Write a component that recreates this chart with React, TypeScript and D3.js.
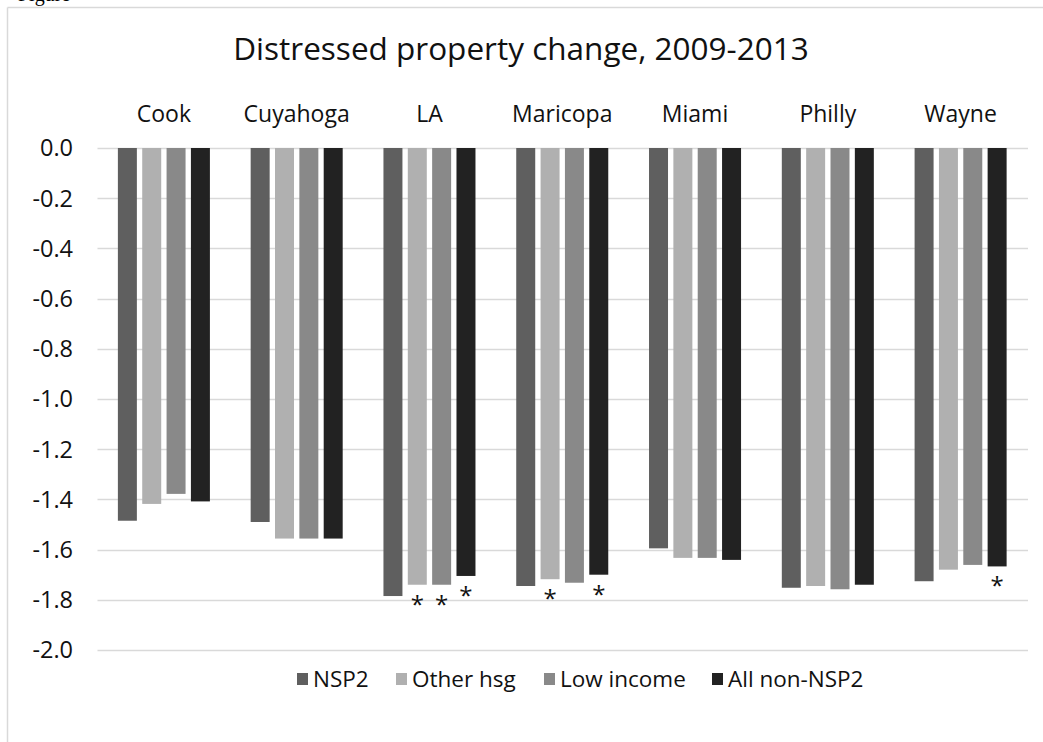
import React from "react";
import * as d3 from "d3";

const categories = ["Cook", "Cuyahoga", "LA", "Maricopa", "Miami", "Philly", "Wayne"];
const seriesNames = ["NSP2", "Other hsg", "Low income", "All non-NSP2"];
const nsp2 = [-1.485, -1.49, -1.785, -1.745, -1.595, -1.752, -1.726];
const otherHsg = [-1.418, -1.556, -1.74, -1.718, -1.633, -1.745, -1.68];
const lowIncome = [-1.378, -1.556, -1.74, -1.732, -1.633, -1.758, -1.661];
const allNonNsp2 = [-1.408, -1.556, -1.705, -1.7, -1.641, -1.74, -1.667];
// significance markers (asterisks)
const sigOther = [false, false, true, true, false, false, false];
const sigLow = [false, false, true, false, false, false, false];
const sigAll = [false, false, true, true, false, false, true];
const yTicks = [0, -0.2, -0.4, -0.6, -0.8, -1.0, -1.2, -1.4, -1.6, -1.8, -2.0];
const title = "Distressed property change, 2009-2013";

const seriesValues = [nsp2, otherHsg, lowIncome, allNonNsp2];
const seriesSig = [categories.map(() => false), sigOther, sigLow, sigAll];
const colors = ["#5f5f5f", "#b0b0b0", "#898989", "#222222"];

const W = 1043;
const H = 742;
const FONT = "'Open Sans', 'Noto Sans', sans-serif";

export default function App() {
  const x0 = d3.scaleBand<string>().domain(categories).range([97.5, 1027]).paddingInner(0.307).paddingOuter(0.1535);
  const x1 = d3.scaleBand<string>().domain(seriesNames).range([0, x0.bandwidth()]).paddingInner(0.22).paddingOuter(0);
  const y = d3.scaleLinear().domain([-2, 0]).range([650, 148]);

  const legendX = [297, 396, 544, 712];

  return (
    <svg width={W} height={H} style={{ position: "absolute", left: 0, top: 0, display: "block", background: "#fff" }}>
      <rect x={0} y={0} width={W} height={H} fill="#fff" />
      <text x={18} y={1} fontFamily="'Liberation Serif', serif" fontSize={20} fill="#000">Figure</text>
      <line x1={7.5} y1={7.5} x2={W} y2={7.5} stroke="#d9d9d9" strokeWidth={1.5} />
      <line x1={7.5} y1={7.5} x2={7.5} y2={H} stroke="#d9d9d9" strokeWidth={1.5} />
      <text x={521} y={60} textAnchor="middle" fontFamily={FONT} fontSize={31.5} fill="#111">{title}</text>
      {yTicks.map((t) => (
        <g key={t}>
          <line x1={97.5} x2={1028} y1={Math.round(y(t)) + 0.5} y2={Math.round(y(t)) + 0.5} stroke="#d9d9d9" strokeWidth={1.5} />
          <text x={73} y={y(t)} dy="0.36em" textAnchor="end" fontFamily={FONT} fontSize={23.5} fill="#111">
            {d3.format(".1f")(t).replace("−", "-")}
          </text>
        </g>
      ))}
      {categories.map((c, ci) => (
        <g key={c}>
          <text x={(x0(c) ?? 0) + x0.bandwidth() / 2} y={122} textAnchor="middle" fontFamily={FONT} fontSize={23} fill="#111">{c}</text>
          {seriesNames.map((s, si) => {
            const v = seriesValues[si][ci];
            const bx = (x0(c) ?? 0) + (x1(s) ?? 0);
            return (
              <g key={s}>
                <rect x={bx} y={y(0)} width={x1.bandwidth()} height={y(v) - y(0)} fill={colors[si]} />
                {seriesSig[si][ci] && (
                  <text x={bx + x1.bandwidth() / 2} y={y(v) + 28} textAnchor="middle" fontFamily={FONT} fontSize={24} fill="#111">*</text>
                )}
              </g>
            );
          })}
        </g>
      ))}
      {seriesNames.map((s, si) => (
        <g key={s}>
          <rect x={legendX[si]} y={673} width={11} height={12} fill={colors[si]} />
          <text x={legendX[si] + 16} y={679} dy="0.36em" fontFamily={FONT} fontSize={22.5} fill="#111">{s}</text>
        </g>
      ))}
    </svg>
  );
}
